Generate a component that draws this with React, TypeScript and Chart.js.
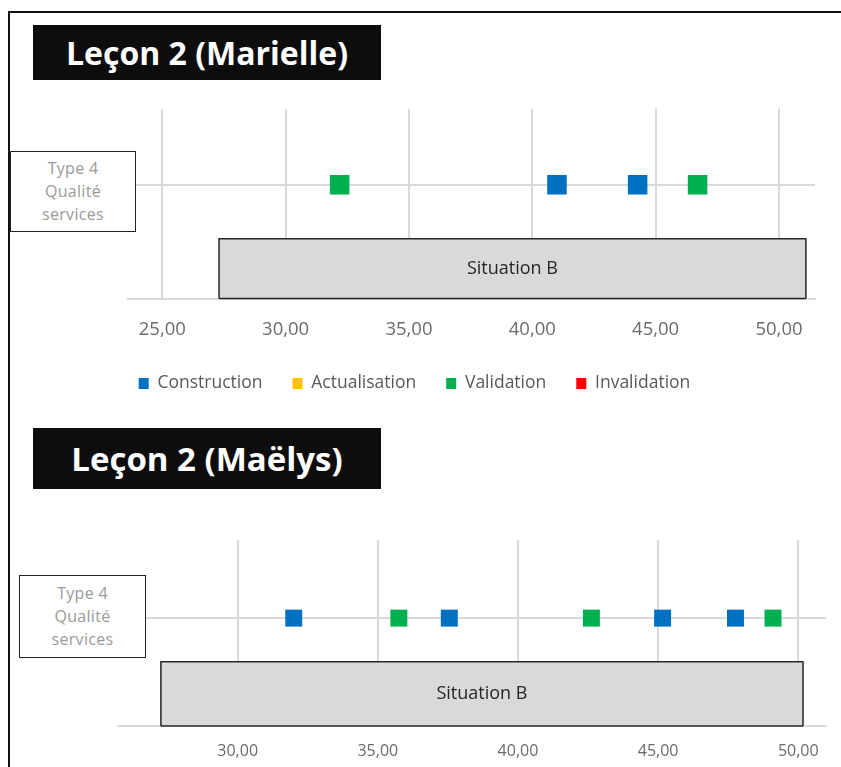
import React, { useEffect, useRef } from "react";
import { Chart, registerables } from "chart.js";

Chart.register(...registerables);

// ---- data ----
const SERIES = ["Construction", "Actualisation", "Validation", "Invalidation"];
const SERIES_COLORS = ["#0070C0", "#FFC000", "#00B050", "#FF0000"];
const CATEGORY_LABEL = ["Type 4", "Qualité", "services"];
const SITUATION_LABEL = "Situation B";

// Leçon 2 (Marielle)
const MARIELLE_TITLE = "Leçon 2 (Marielle)";
const MARIELLE_CONSTRUCTION = [41.0, 44.27];
const MARIELLE_ACTUALISATION: number[] = [];
const MARIELLE_VALIDATION = [32.19, 46.7];
const MARIELLE_INVALIDATION: number[] = [];
const MARIELLE_SITUATION = [27.3, 51.09];
const MARIELLE_X_TICKS = [25, 30, 35, 40, 45, 50];
const MARIELLE_X_RANGE = [23.61, 51.46];

// Leçon 2 (Maëlys)
const MAELYS_TITLE = "Leçon 2 (Maëlys)";
const MAELYS_CONSTRUCTION = [32.0, 37.55, 45.16, 47.76];
const MAELYS_ACTUALISATION: number[] = [];
const MAELYS_VALIDATION = [35.75, 42.62, 49.1];
const MAELYS_INVALIDATION: number[] = [];
const MAELYS_SITUATION = [27.26, 50.17];
const MAELYS_X_TICKS = [30, 35, 40, 45, 50];
const MAELYS_X_RANGE = [25.73, 50.99];

// vertical placement (y axis 0..10)
const Y_RANGE = [0, 10];
const MARIELLE_ROW = [6.0, 3.15]; // category row, box top
const MAELYS_ROW = [5.8, 3.45];

const FONT = '"Open Sans", "Noto Sans", sans-serif';

const boxLabelPlugin = {
  id: "boxLabel",
  afterDatasetsDraw(chart: any, _args: any, o: any) {
    if (!o || !o.text) return;
    const { x, y } = chart.scales;
    const ctx = chart.ctx;
    const cx = (x.getPixelForValue(o.range[0]) + x.getPixelForValue(o.range[1])) / 2;
    const cy = (y.getPixelForValue(0) + y.getPixelForValue(o.top)) / 2;
    ctx.save();
    ctx.font = `${o.size}px ${FONT}`;
    ctx.fillStyle = "#262626";
    ctx.textAlign = "center";
    ctx.textBaseline = "middle";
    ctx.fillText(o.text, cx, cy);
    ctx.restore();
  },
};

type Cfg = {
  series: number[][];
  xRange: number[];
  xTicks: number[];
  row: number[];
  situation: number[];
  pointRadius: number;
  tickSize: number;
  tickPadding: number;
  xHeight: number;
  showLegend: boolean;
  padding: { top: number; right: number; bottom: number; left: number };
  leftWidth: number;
  rightWidth: number;
};

function makeChart(canvas: HTMLCanvasElement, c: Cfg) {
  const datasets: any[] = c.series.map((vals, i) => ({
    type: "scatter",
    label: SERIES[i],
    data: vals.map((v) => ({ x: v, y: c.row[0] })),
    backgroundColor: SERIES_COLORS[i],
    borderColor: SERIES_COLORS[i],
    borderWidth: 0,
    pointStyle: "rect",
    pointRadius: c.pointRadius,
    pointHoverRadius: c.pointRadius,
    order: 1,
  }));
  // Situation B box: filled outline down to the axis
  datasets.push({
    type: "line",
    label: SITUATION_LABEL,
    data: [
      { x: c.situation[0], y: Y_RANGE[0] },
      { x: c.situation[0], y: c.row[1] },
      { x: c.situation[1], y: c.row[1] },
      { x: c.situation[1], y: Y_RANGE[0] },
    ],
    borderColor: "#262626",
    borderWidth: 1.5,
    backgroundColor: "#d9d9d9",
    fill: "origin",
    pointRadius: 0,
    tension: 0,
    clip: false,
    order: 2,
  });
  // bottom edge of the box
  datasets.push({
    type: "line",
    label: SITUATION_LABEL,
    data: [
      { x: c.situation[0], y: Y_RANGE[0] },
      { x: c.situation[1], y: Y_RANGE[0] },
    ],
    borderColor: "#262626",
    borderWidth: 1.5,
    fill: false,
    pointRadius: 0,
    tension: 0,
    clip: false,
    order: 0,
  });

  return new Chart(canvas, {
    type: "scatter",
    data: { datasets },
    plugins: [boxLabelPlugin],
    options: {
      animation: false,
      responsive: false,
      events: [],
      layout: { padding: c.padding },
      plugins: {
        tooltip: { enabled: false },
        title: { display: false },
        legend: {
          display: c.showLegend,
          position: "bottom",
          labels: {
            font: { family: FONT, size: 17.5 },
            color: "#595959",
            boxWidth: 10,
            boxHeight: 11,
            padding: 30,
            filter: (item: any) => item.text !== SITUATION_LABEL,
          },
        },
        boxLabel: { text: SITUATION_LABEL, range: c.situation, top: c.row[1], size: 18 },
      } as any,
      scales: {
        x: {
          type: "linear",
          min: c.xRange[0],
          max: c.xRange[1],
          afterBuildTicks: (s: any) => {
            s.ticks = c.xTicks.map((v) => ({ value: v }));
          },
          afterFit: (s: any) => {
            s.height = c.xHeight;
          },
          ticks: {
            autoSkip: false,
            maxRotation: 0,
            padding: c.tickPadding,
            color: "#6b6b6b",
            font: { family: FONT, size: c.tickSize },
            callback: (v: any) => Number(v).toFixed(2).replace(".", ","),
          },
          grid: { color: "#d9d9d9", lineWidth: 2, drawTicks: false },
          border: { display: true, color: "#d9d9d9", width: 2 },
        },
        y: {
          type: "linear",
          min: Y_RANGE[0],
          max: Y_RANGE[1],
          afterBuildTicks: (s: any) => {
            s.ticks = [{ value: c.row[0] }];
          },
          afterFit: (s: any) => {
            s.width = c.leftWidth;
          },
          ticks: { display: false },
          grid: { color: "#d9d9d9", lineWidth: 2, drawTicks: false },
          border: { display: false },
        },
        yR: {
          type: "linear",
          position: "right",
          min: Y_RANGE[0],
          max: Y_RANGE[1],
          afterFit: (s: any) => {
            s.width = c.rightWidth;
          },
          ticks: { display: false },
          grid: { display: false, drawTicks: false },
          border: { display: false },
        },
      } as any,
    },
  } as any);
}

const titleStyle = (top: number, height: number, size: number): React.CSSProperties => ({
  position: "absolute",
  left: 33,
  top,
  width: 348,
  height,
  background: "#0d0d0d",
  color: "#fff",
  fontFamily: FONT,
  fontWeight: 700,
  fontSize: size,
  lineHeight: 1,
  display: "flex",
  alignItems: "center",
  justifyContent: "center",
  zIndex: 2,
});

const labelBoxStyle = (left: number, top: number, width: number, height: number): React.CSSProperties => ({
  position: "absolute",
  left,
  top,
  width,
  height,
  boxSizing: "border-box",
  border: "1.5px solid #222",
  background: "#fff",
  color: "#9a9a9a",
  fontFamily: FONT,
  fontSize: 16,
  letterSpacing: 0.3,
  lineHeight: "23px",
  display: "flex",
  flexDirection: "column",
  alignItems: "center",
  justifyContent: "center",
  zIndex: 2,
});

export default function App() {
  const ref1 = useRef<HTMLCanvasElement>(null);
  const ref2 = useRef<HTMLCanvasElement>(null);

  useEffect(() => {
    const c1 = makeChart(ref1.current!, {
      series: [MARIELLE_CONSTRUCTION, MARIELLE_ACTUALISATION, MARIELLE_VALIDATION, MARIELLE_INVALIDATION],
      xRange: MARIELLE_X_RANGE,
      xTicks: MARIELLE_X_TICKS,
      row: MARIELLE_ROW,
      situation: MARIELLE_SITUATION,
      pointRadius: 13.8,
      tickSize: 18.5,
      tickPadding: 20.5,
      xHeight: 46.25,
      showLegend: true,
      padding: { top: 12, right: 12, bottom: 1.75, left: 0 },
      leftWidth: 128,
      rightWidth: 14,
    });
    const c2 = makeChart(ref2.current!, {
      series: [MAELYS_CONSTRUCTION, MAELYS_ACTUALISATION, MAELYS_VALIDATION, MAELYS_INVALIDATION],
      xRange: MAELYS_X_RANGE,
      xTicks: MAELYS_X_TICKS,
      row: MAELYS_ROW,
      situation: MAELYS_SITUATION,
      pointRadius: 12,
      tickSize: 16,
      tickPadding: 15.5,
      xHeight: 33.6,
      showLegend: false,
      padding: { top: 40, right: 15, bottom: 7.4, left: 0 },
      leftWidth: 118,
      rightWidth: 0,
    });
    return () => {
      c1.destroy();
      c2.destroy();
    };
  }, []);

  return (
    <div
      style={{
        position: "absolute",
        left: 0,
        top: 0,
        width: 841,
        height: 767,
        overflow: "hidden",
        background: "#fff",
      }}
    >
      <div
        style={{
          position: "absolute",
          left: 8,
          top: 11,
          width: 2000,
          height: 2000,
          borderLeft: "2px solid #111",
          borderTop: "2px solid #111",
        }}
      />
      <canvas ref={ref1} width={841} height={309} style={{ position: "absolute", left: 0, top: 95, width: 841, height: 309 }} />
      <canvas ref={ref2} width={841} height={267} style={{ position: "absolute", left: 0, top: 500, width: 841, height: 267 }} />
      <div style={titleStyle(25, 55, 32)}>{MARIELLE_TITLE}</div>
      <div style={titleStyle(428, 61, 33)}>{MAELYS_TITLE}</div>
      <div style={labelBoxStyle(10, 151, 126, 81)}>
        {CATEGORY_LABEL.map((t) => (
          <div key={t}>{t}</div>
        ))}
      </div>
      <div style={labelBoxStyle(19, 575, 127, 83)}>
        {CATEGORY_LABEL.map((t) => (
          <div key={t}>{t}</div>
        ))}
      </div>
    </div>
  );
}
